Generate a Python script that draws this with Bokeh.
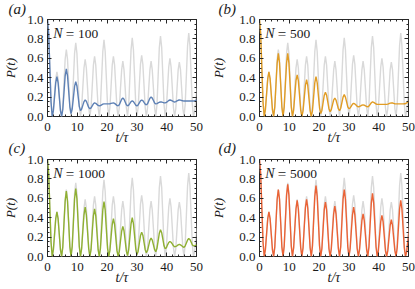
import math
from bokeh.plotting import figure
from bokeh.layouts import column, row
from bokeh.models import Label, LinearAxis, Range1d, FixedTicker, NumeralTickFormatter, Title
from bokeh.embed import file_html
from bokeh.resources import INLINE

# ---------------- data ----------------
t = [0, 0.395, 0.79, 1.185, 1.58, 1.975, 2.37, 2.765,
     3.16, 3.555, 3.95, 4.345, 4.74, 5.135, 5.53, 5.925,
     6.32, 6.715, 7.11, 7.505, 7.9, 8.295, 8.69, 9.085,
     9.48, 9.875, 10.27, 10.665, 11.06, 11.455, 11.85, 12.245,
     12.64, 13.035, 13.43, 13.825, 14.22, 14.615, 15.01, 15.405,
     15.8, 16.195, 16.59, 16.985, 17.38, 17.775, 18.17, 18.565,
     18.96, 19.355, 19.75, 20.145, 20.54, 20.935, 21.33, 21.725,
     22.12, 22.515, 22.91, 23.305, 23.7, 24.095, 24.49, 24.885,
     25.28, 25.675, 26.07, 26.465, 26.86, 27.255, 27.65, 28.045,
     28.44, 28.835, 29.23, 29.625, 30.02, 30.415, 30.81, 31.205,
     31.6, 31.995, 32.39, 32.785, 33.18, 33.575, 33.97, 34.365,
     34.76, 35.155, 35.55, 35.945, 36.34, 36.735, 37.13, 37.525,
     37.92, 38.315, 38.71, 39.105, 39.5, 39.895, 40.29, 40.685,
     41.08, 41.475, 41.87, 42.265, 42.66, 43.055, 43.45, 43.845,
     44.24, 44.635, 45.03, 45.425, 45.82, 46.215, 46.61, 47.005,
     47.4, 47.795, 48.19, 48.585, 48.98, 49.375, 49.77, 50.165,
     50.56]

p_reference = [1.0, 0.85, 0.5, 0.15, 0, 0.07, 0.23, 0.39,
               0.46, 0.39, 0.23, 0.07, 0, 0.10, 0.35, 0.59,
               0.69, 0.59, 0.35, 0.10, 0, 0.11, 0.38, 0.65,
               0.76, 0.65, 0.38, 0.11, 0, 0.09, 0.30, 0.50,
               0.59, 0.50, 0.30, 0.09, 0, 0.09, 0.31, 0.53,
               0.62, 0.53, 0.31, 0.09, 0, 0.12, 0.40, 0.67,
               0.79, 0.67, 0.40, 0.12, 0, 0.09, 0.31, 0.53,
               0.62, 0.53, 0.31, 0.09, 0, 0.09, 0.29, 0.48,
               0.57, 0.48, 0.29, 0.09, 0, 0.12, 0.41, 0.69,
               0.81, 0.69, 0.41, 0.12, 0, 0.09, 0.32, 0.54,
               0.63, 0.54, 0.32, 0.09, 0, 0.09, 0.29, 0.48,
               0.57, 0.48, 0.29, 0.09, 0, 0.12, 0.42, 0.71,
               0.83, 0.71, 0.42, 0.12, 0, 0.09, 0.30, 0.51,
               0.60, 0.51, 0.30, 0.09, 0, 0.08, 0.28, 0.48,
               0.56, 0.48, 0.28, 0.08, 0, 0.13, 0.43, 0.73,
               0.86, 0.73, 0.43, 0.13, 0, 0.05, 0.17, 0.30,
               0.45]

p_n100 = [1.0, 0.85, 0.5, 0.15, 0, 0.06, 0.205, 0.35,
          0.41, 0.35, 0.205, 0.06, 0, 0.074, 0.245, 0.42,
          0.49, 0.42, 0.26, 0.10, 0.03, 0.08, 0.195, 0.31,
          0.36, 0.315, 0.21, 0.105, 0.06, 0.077, 0.115, 0.153,
          0.17, 0.157, 0.125, 0.094, 0.08, 0.089, 0.11, 0.131,
          0.14, 0.136, 0.125, 0.115, 0.11, 0.113, 0.12, 0.127,
          0.13, 0.13, 0.13, 0.13, 0.13, 0.132, 0.135, 0.138,
          0.14, 0.135, 0.125, 0.115, 0.11, 0.122, 0.15, 0.178,
          0.19, 0.178, 0.15, 0.122, 0.11, 0.118, 0.135, 0.153,
          0.16, 0.153, 0.135, 0.118, 0.11, 0.119, 0.14, 0.161,
          0.17, 0.163, 0.145, 0.128, 0.12, 0.132, 0.16, 0.188,
          0.20, 0.19, 0.165, 0.14, 0.13, 0.133, 0.14, 0.147,
          0.15, 0.149, 0.145, 0.142, 0.14, 0.145, 0.155, 0.165,
          0.17, 0.167, 0.16, 0.153, 0.15, 0.153, 0.16, 0.167,
          0.17, 0.169, 0.165, 0.162, 0.16, 0.16, 0.16, 0.16,
          0.16, 0.16, 0.16, 0.16, 0.16, 0.162, 0.165, 0.168,
          0.17]

p_n500 = [1.0, 0.85, 0.5, 0.15, 0, 0.07, 0.23, 0.39,
          0.46, 0.39, 0.23, 0.07, 0, 0.10, 0.33, 0.55,
          0.65, 0.55, 0.33, 0.10, 0, 0.10, 0.33, 0.55,
          0.65, 0.55, 0.33, 0.10, 0, 0.065, 0.22, 0.37,
          0.43, 0.37, 0.22, 0.065, 0, 0.057, 0.19, 0.32,
          0.38, 0.32, 0.19, 0.057, 0, 0.06, 0.205, 0.35,
          0.41, 0.35, 0.22, 0.09, 0.03, 0.063, 0.14, 0.217,
          0.25, 0.22, 0.15, 0.08, 0.05, 0.071, 0.12, 0.17,
          0.19, 0.17, 0.125, 0.08, 0.06, 0.085, 0.143, 0.20,
          0.225, 0.20, 0.15, 0.10, 0.08, 0.088, 0.108, 0.127,
          0.135, 0.13, 0.118, 0.105, 0.10, 0.103, 0.11, 0.117,
          0.12, 0.117, 0.11, 0.103, 0.10, 0.108, 0.125, 0.142,
          0.15, 0.146, 0.138, 0.129, 0.125, 0.125, 0.125, 0.125,
          0.125, 0.125, 0.125, 0.125, 0.125, 0.127, 0.133, 0.138,
          0.14, 0.139, 0.135, 0.132, 0.13, 0.13, 0.13, 0.13,
          0.13, 0.13, 0.13, 0.131, 0.132, 0.14, 0.15, 0.16,
          0.17]

p_n1000 = [1.0, 0.85, 0.5, 0.15, 0, 0.07, 0.23, 0.39,
           0.46, 0.39, 0.23, 0.07, 0, 0.10, 0.34, 0.57,
           0.675, 0.57, 0.34, 0.10, 0, 0.105, 0.35, 0.595,
           0.70, 0.595, 0.35, 0.105, 0, 0.08, 0.26, 0.43,
           0.51, 0.43, 0.26, 0.08, 0, 0.07, 0.25, 0.42,
           0.49, 0.42, 0.25, 0.07, 0, 0.085, 0.28, 0.48,
           0.565, 0.48, 0.28, 0.085, 0, 0.06, 0.20, 0.33,
           0.39, 0.33, 0.20, 0.06, 0.005, 0.05, 0.16, 0.26,
           0.31, 0.265, 0.16, 0.055, 0.01, 0.07, 0.205, 0.34,
           0.40, 0.34, 0.21, 0.077, 0.02, 0.055, 0.135, 0.215,
           0.25, 0.22, 0.145, 0.07, 0.04, 0.062, 0.115, 0.167,
           0.19, 0.17, 0.12, 0.07, 0.05, 0.084, 0.16, 0.24,
           0.275, 0.245, 0.18, 0.11, 0.08, 0.09, 0.12, 0.145,
           0.155, 0.147, 0.13, 0.11, 0.10, 0.104, 0.11, 0.12,
           0.125, 0.12, 0.11, 0.10, 0.095, 0.11, 0.14, 0.17,
           0.185, 0.175, 0.15, 0.12, 0.11, 0.11, 0.115, 0.12,
           0.12]

p_n5000 = [1.0, 0.85, 0.5, 0.15, 0, 0.07, 0.23, 0.39,
           0.46, 0.39, 0.23, 0.07, 0, 0.10, 0.35, 0.59,
           0.69, 0.59, 0.35, 0.10, 0, 0.11, 0.37, 0.63,
           0.745, 0.63, 0.37, 0.11, 0, 0.09, 0.29, 0.49,
           0.58, 0.49, 0.29, 0.09, 0, 0.09, 0.30, 0.50,
           0.59, 0.50, 0.30, 0.09, 0, 0.11, 0.37, 0.62,
           0.73, 0.62, 0.37, 0.11, 0, 0.08, 0.28, 0.48,
           0.56, 0.48, 0.28, 0.08, 0, 0.08, 0.26, 0.44,
           0.52, 0.44, 0.26, 0.08, 0, 0.10, 0.35, 0.59,
           0.69, 0.59, 0.35, 0.10, 0, 0.08, 0.26, 0.43,
           0.51, 0.43, 0.26, 0.08, 0, 0.07, 0.22, 0.37,
           0.44, 0.37, 0.22, 0.07, 0, 0.10, 0.33, 0.55,
           0.65, 0.55, 0.33, 0.10, 0, 0.06, 0.21, 0.36,
           0.425, 0.36, 0.21, 0.06, 0, 0.06, 0.19, 0.32,
           0.38, 0.32, 0.19, 0.06, 0, 0.09, 0.29, 0.49,
           0.58, 0.49, 0.29, 0.09, 0, 0.05, 0.15, 0.27,
           0.40]

panel_letters = ["(a)", "(b)", "(c)", "(d)"]
n_values = ["100", "500", "1000", "5000"]
x_ticks = [0, 10, 20, 30, 40, 50]
y_ticks = [0.0, 0.2, 0.4, 0.6, 0.8, 1.0]
x_title = "t/\u03c4"
y_title = "P(t)"

for s in (p_reference, p_n100, p_n500, p_n1000, p_n5000):
    assert len(s) == len(t), len(s)

# ---------------- style ----------------
SERIF = "Liberation Serif"
INK = "#1a1a1a"
FRAME = "#262626"
GRAY = "#d9d9d9"
COLORS = ["#5E81B5", "#E19C24", "#8FB032", "#EB6235"]

x_minor = [v for v in range(0, 51, 2)]
y_minor = [round(0.05 * i, 2) for i in range(21)]


def style_axis(ax, show, standoff):
    ax.axis_line_color = None
    ax.major_tick_in = 4
    ax.major_tick_out = 0
    ax.minor_tick_in = 2
    ax.minor_tick_out = 0
    ax.major_tick_line_color = FRAME
    ax.minor_tick_line_color = FRAME
    ax.major_label_text_font = SERIF
    ax.major_label_standoff = standoff
    if show:
        ax.major_label_text_font_size = "13px"
        ax.major_label_text_color = INK
    else:
        ax.major_label_text_font_size = "1px"
        ax.major_label_text_color = None


def lab(p, x, y, text, size, italic=False):
    p.add_layout(Label(x=x, y=y, x_units="screen", y_units="screen", text=text,
                       text_font=SERIF, text_font_size=size,
                       text_font_style="italic" if italic else "normal",
                       text_color=INK, text_align="left", text_baseline="alphabetic"))


def panel(values, color, letter, nval, width, height, mbl, mbr, mbt, mbb,
          letter_offset, letter_standoff, ylab_standoff, xlab_standoff, transparent):
    p = figure(width=width, height=height, x_range=Range1d(0, 50), y_range=Range1d(0, 1),
               output_backend="svg", toolbar_location=None,
               min_border_left=mbl, min_border_right=mbr,
               min_border_top=mbt, min_border_bottom=mbb)
    p.grid.visible = False
    p.outline_line_color = FRAME
    p.outline_line_width = 1
    p.background_fill_color = "white"
    p.border_fill_color = None if transparent else "white"

    xa, ya = p.xaxis[0], p.yaxis[0]
    xa.ticker = FixedTicker(ticks=x_ticks, minor_ticks=x_minor)
    ya.ticker = FixedTicker(ticks=y_ticks, minor_ticks=y_minor)
    ya.formatter = NumeralTickFormatter(format="0.0")
    style_axis(xa, True, 6)
    style_axis(ya, True, 4)
    for ax, std, size in ((xa, xlab_standoff, "14px"), (ya, ylab_standoff, "13px")):
        ax.axis_label_text_font = SERIF
        ax.axis_label_text_font_style = "italic"
        ax.axis_label_text_font_size = size
        ax.axis_label_text_color = INK
        ax.axis_label_standoff = std
    xa.axis_label = x_title
    ya.axis_label = y_title

    top = LinearAxis(ticker=FixedTicker(ticks=x_ticks, minor_ticks=x_minor))
    right = LinearAxis(ticker=FixedTicker(ticks=y_ticks, minor_ticks=y_minor))
    style_axis(top, False, 0)
    style_axis(right, False, 0)
    p.add_layout(top, "above")
    p.add_layout(right, "right")
    p.add_layout(Title(text=letter, align="left", offset=letter_offset,
                       standoff=letter_standoff, vertical_align="bottom",
                       text_font=SERIF, text_font_size="15px", text_font_style="italic",
                       text_color=INK), "above")

    p.line(t, p_reference, line_color=GRAY, line_width=1.4)
    p.line(t, values, line_color=color, line_width=1.4)

    fh = height - mbt - mbb
    lab(p, 5.7, fh - 14.3, "N", "14px", italic=True)
    lab(p, 18.3, fh - 14.3, "=", "15px")
    lab(p, 30.5, fh - 14.3, nval, "13.5px")
    return p


#              values   colour     letter            N            w    h   l   r   t   b  off  so  ylab xlab
pa = panel(p_n100, COLORS[0], panel_letters[0], n_values[0], 208, 157, 41, 12, 26, 34, -39, 6, 6, -4, False)
pb = panel(p_n500, COLORS[1], panel_letters[1], n_values[1], 207, 157, 45, 7, 26, 34, -41, 6, 10, -4, False)
pc = panel(p_n1000, COLORS[2], panel_letters[2], n_values[2], 208, 159, 41, 12, 29, 33, -39, 8, 6, -4, True)
pd = panel(p_n5000, COLORS[3], panel_letters[3], n_values[3], 207, 159, 45, 7, 29, 33, -41, 8, 10, -4, True)

row1 = row(pa, pb, spacing=0)
row2 = row(pc, pd, spacing=0)
row2.styles = {"margin-top": "-20px"}
layout = column(row1, row2, spacing=0)
layout.styles = {"margin-top": "-7px"}

open("out.html", "w").write(file_html(layout, INLINE))
